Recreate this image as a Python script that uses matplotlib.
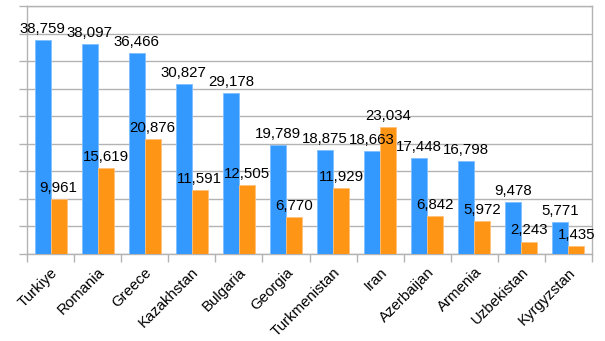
import matplotlib
matplotlib.use("Agg")
import matplotlib.pyplot as plt
import numpy as np

countries = ["Turkiye", "Romania", "Greece", "Kazakhstan", "Bulgaria", "Georgia",
             "Turkmenistan", "Iran", "Azerbaijan", "Armenia", "Uzbekistan", "Kyrgyzstan"]
series_a = [38759, 38097, 36466, 30827, 29178, 19789, 18875, 18663, 17448, 16798, 9478, 5771]
series_b = [9961, 15619, 20876, 11591, 12505, 6770, 11929, 23034, 6842, 5972, 2243, 1435]

plt.rcParams['font.family'] = ['Liberation Sans', 'DejaVu Sans']
fs = 10.8
grid_c = "#b3b3b3"
blue = "#3399ff"
orange = "#ff9515"

fig = plt.figure(figsize=(6.05, 3.41), dpi=100)
ax = fig.add_axes([27/605, 1-254/341, (592-27)/605, (254-6)/341])

x = np.arange(len(countries))
w = 0.34
ax.bar(x - w/2, series_a, w, color=blue, edgecolor="#7fbfff", linewidth=0.6, zorder=3)
ax.bar(x + w/2, series_b, w, color=orange, edgecolor="#ffc07a", linewidth=0.6, zorder=3)

for xi, v in zip(x - w/2, series_a):
    ax.annotate(f"{v:,}", (xi, v), xytext=(0, 3), textcoords="offset points",
                ha="center", va="bottom", fontsize=fs, zorder=5)
for xi, v in zip(x + w/2, series_b):
    ax.annotate(f"{v:,}", (xi, v), xytext=(0, 3), textcoords="offset points",
                ha="center", va="bottom", fontsize=fs, zorder=5)

ax.set_xlim(-0.5, len(countries) - 0.5)
ax.set_ylim(0, 45000)
ax.set_yticks(np.arange(0, 45001, 5000))
ax.set_yticklabels([])
ax.tick_params(axis="y", length=6, color=grid_c, width=1)
ax.yaxis.grid(True, color=grid_c, linewidth=1, zorder=0)

ax.set_xticks(x)
ax.set_xticklabels(countries, rotation=45, ha="right", va="top",
                   rotation_mode="anchor", fontsize=fs)
ax.tick_params(axis="x", which="major", length=0, pad=8)
ax.set_xticks(np.arange(-0.5, len(countries), 1), minor=True)
ax.tick_params(axis="x", which="minor", length=6, color=grid_c, width=1)

for s in ["left", "right", "bottom", "top"]:
    ax.spines[s].set_color(grid_c)
    ax.spines[s].set_linewidth(1)

fig.savefig("out.png", dpi=100)
